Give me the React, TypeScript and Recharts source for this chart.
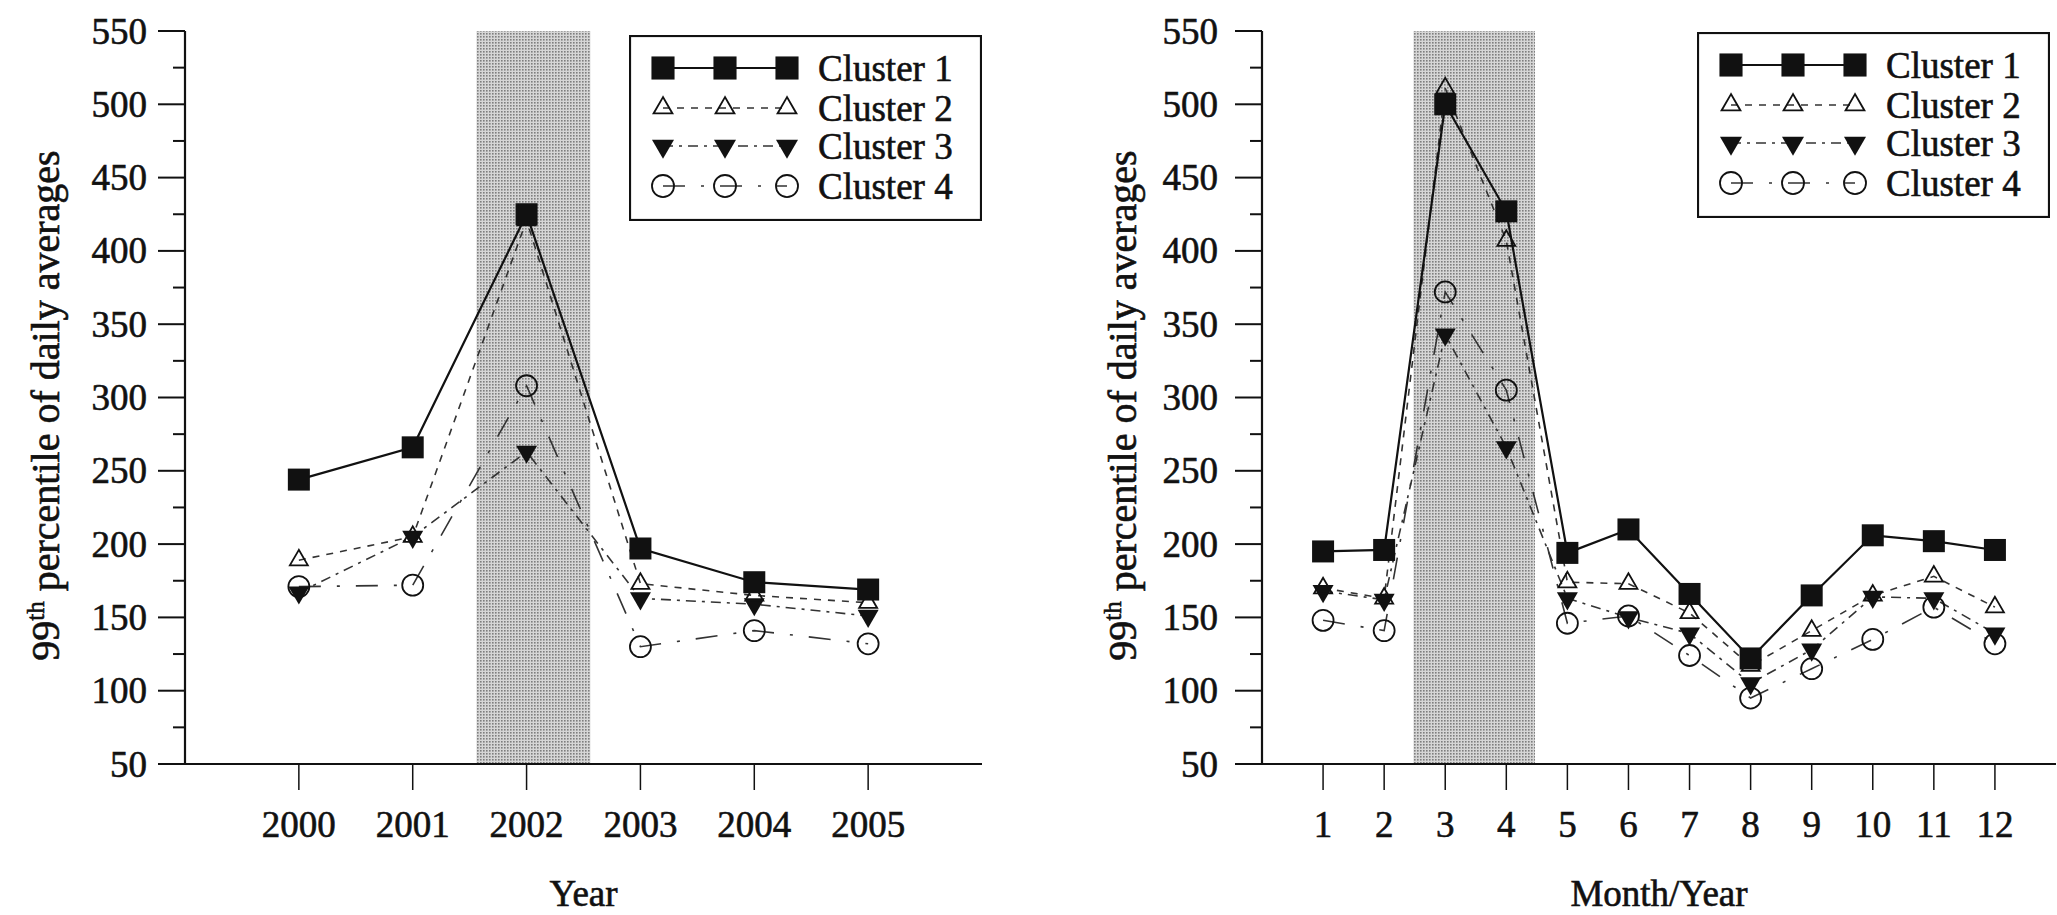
import React from 'react';
import { LineChart, Line, XAxis, YAxis, ReferenceArea, Legend, Label } from 'recharts';

// ---------- data ----------
const years = [2000, 2001, 2002, 2003, 2004, 2005];
const yearCluster1 = [244, 266, 425, 197, 174, 169];
const yearCluster2 = [189, 205, 421, 173, 165, 160];
const yearCluster3 = [167, 205, 263, 163, 159, 151];
const yearCluster4 = [171, 172, 308, 130, 141, 132];

const months = [1, 2, 3, 4, 5, 6, 7, 8, 9, 10, 11, 12];
const monthCluster1 = [195, 196, 500, 427, 194, 210, 166, 122, 165, 206, 202, 196];
const monthCluster2 = [170, 163, 511, 407, 174, 173, 153, 117, 141, 165, 178, 157];
const monthCluster3 = [168, 162, 343, 266, 163, 150, 139, 105, 128, 164, 163, 139];
const monthCluster4 = [148, 141, 372, 305, 146, 151, 124, 95, 115, 135, 157, 132];

const yearTicks = [2000, 2001, 2002, 2003, 2004, 2005];
const monthTicks = [1, 2, 3, 4, 5, 6, 7, 8, 9, 10, 11, 12];
const valueTicks = [50, 75, 100, 125, 150, 175, 200, 225, 250, 275, 300, 325, 350, 375, 400, 425, 450, 475, 500, 525, 550];
const seriesNames = ['Cluster 1', 'Cluster 2', 'Cluster 3', 'Cluster 4'];

const yearData = years.map((x, i) => ({
  x,
  c1: yearCluster1[i],
  c2: yearCluster2[i],
  c3: yearCluster3[i],
  c4: yearCluster4[i],
}));
const monthData = months.map((x, i) => ({
  x,
  c1: monthCluster1[i],
  c2: monthCluster2[i],
  c3: monthCluster3[i],
  c4: monthCluster4[i],
}));

// ---------- styles ----------
const FONT = '"Liberation Serif", "Times New Roman", Times, serif';
const INK = '#111';
const FS = 37;
const TEXT_STROKE = 0.6;

type Kind = 'square' | 'triUp' | 'triDown' | 'circle';
const seriesStyle: { key: string; kind: Kind; dash?: string; width: number; color: string }[] = [
  { key: 'c1', kind: 'square', dash: undefined, width: 2.2, color: '#111' },
  { key: 'c2', kind: 'triUp', dash: '7 7', width: 1.6, color: '#333' },
  { key: 'c3', kind: 'triDown', dash: '10 6 3 6', width: 1.6, color: '#333' },
  { key: 'c4', kind: 'circle', dash: '22 16 3 16', width: 1.6, color: '#333' },
];

function MarkerShape({ kind, cx, cy, scale = 1 }: { kind: Kind; cx: number; cy: number; scale?: number }) {
  if (kind === 'square') {
    const s = 22 * scale;
    return <rect x={cx - s / 2} y={cy - s / 2} width={s} height={s} fill={INK} />;
  }
  if (kind === 'triUp') {
    const w = 18 * scale;
    const h = w * 0.866;
    return (
      <polygon
        points={`${cx},${cy - (2 * h) / 3} ${cx - w / 2},${cy + h / 3} ${cx + w / 2},${cy + h / 3}`}
        fill="none"
        stroke={INK}
        strokeWidth={1.8}
      />
    );
  }
  if (kind === 'triDown') {
    const w = 21 * scale;
    const h = w * 0.866;
    return (
      <polygon
        points={`${cx},${cy + (2 * h) / 3} ${cx - w / 2},${cy - h / 3} ${cx + w / 2},${cy - h / 3}`}
        fill={INK}
      />
    );
  }
  return <circle cx={cx} cy={cy} r={10.5 * scale} fill="none" stroke={INK} strokeWidth={1.8} />;
}

const makeDot = (kind: Kind) => (props: any) => {
  const { cx, cy, index } = props;
  if (cx == null || cy == null) return <g key={`d-${index}`} />;
  return (
    <g key={`d-${kind}-${index}`}>
      <MarkerShape kind={kind} cx={cx} cy={cy} />
    </g>
  );
};

const makeYTick = (labelGap: number) => (props: any) => {
  const { x, y, payload } = props;
  const v = payload.value;
  const major = v % 50 === 0;
  return (
    <g>
      <line x1={x} y1={y} x2={x - (major ? 27 : 12)} y2={y} stroke={INK} strokeWidth={2} />
      {major && (
        <text
          x={x - labelGap}
          y={y + 12.5}
          textAnchor="end"
          fontFamily={FONT}
          fontSize={FS}
          fill={INK}
          stroke={INK}
          strokeWidth={TEXT_STROKE}
        >
          {v}
        </text>
      )}
    </g>
  );
};

const XTick = (props: any) => {
  const { x, y, payload } = props;
  return (
    <g>
      <line x1={x} y1={y} x2={x} y2={y + 26} stroke={INK} strokeWidth={1.5} />
      <text
        x={x}
        y={y + 73}
        textAnchor="middle"
        fontFamily={FONT}
        fontSize={FS}
        fill={INK}
        stroke={INK}
        strokeWidth={TEXT_STROKE}
      >
        {payload.value}
      </text>
    </g>
  );
};

const YLabel = (props: any) => {
  const vb = props.viewBox || {};
  const bx = vb.x + vb.width - 126;
  const cy = vb.y + vb.height / 2 + 8;
  return (
    <text
      transform={`translate(${bx},${cy}) rotate(-90)`}
      textAnchor="middle"
      fontFamily={FONT}
      fontSize={40}
      fill={INK}
      stroke={INK}
      strokeWidth={TEXT_STROKE}
    >
      99
      <tspan dy={-15} fontSize={25}>
        th
      </tspan>
      <tspan dy={15}> percentile of daily averages</tspan>
    </text>
  );
};

const makeXLabel = (text: string) => (props: any) => {
  const vb = props.viewBox || {};
  return (
    <text
      x={vb.x + vb.width / 2}
      y={vb.y + 142}
      textAnchor="middle"
      fontFamily={FONT}
      fontSize={FS}
      fill={INK}
      stroke={INK}
      strokeWidth={TEXT_STROKE}
    >
      {text}
    </text>
  );
};

const LegendBox = () => {
  const rows = [33, 73, 111, 151];
  const mx = [34, 96, 158];
  return (
    <svg width={353} height={186} style={{ display: 'block' }}>
      <rect x={1} y={1} width={351} height={184} fill="#fff" stroke={INK} strokeWidth={2.2} />
      {seriesStyle.map((s, i) => (
        <g key={s.key}>
          <line
            x1={mx[0]}
            y1={rows[i]}
            x2={mx[2]}
            y2={rows[i]}
            stroke={s.color}
            strokeWidth={s.width}
            strokeDasharray={s.dash}
          />
          {mx.map((x) => (
            <MarkerShape key={x} kind={s.kind} cx={x} cy={rows[i]} scale={1.05} />
          ))}
          <text
            x={189}
            y={rows[i] + 12.5}
            fontFamily={FONT}
            fontSize={FS}
            fill={INK}
            stroke={INK}
            strokeWidth={TEXT_STROKE}
          >
            {seriesNames[i]}
          </text>
        </g>
      ))}
    </svg>
  );
};

type PanelProps = {
  data: any[];
  width: number;
  domain: [number, number];
  ticks: number[];
  band: [number, number];
  yAxisWidth: number;
  marginRight: number;
  labelGap: number;
  xLabel: string;
  legendPos: { left: number; top: number };
  patternId: string;
};

function Panel(p: PanelProps) {
  return (
    <LineChart
      width={p.width}
      height={915}
      data={p.data}
      margin={{ top: 31, right: p.marginRight, bottom: 0, left: 0 }}
    >
      <defs>
        <pattern id={p.patternId} width={3} height={3} patternUnits="userSpaceOnUse">
          <rect width={3} height={3} fill="#d6d6d6" />
          <rect width={1.6} height={1.6} fill="#7e7e7e" />
        </pattern>
      </defs>
      <XAxis
        dataKey="x"
        type="number"
        domain={p.domain}
        ticks={p.ticks}
        interval={0}
        allowDataOverflow
        height={151}
        tickSize={0}
        tickMargin={0}
        tickLine={false}
        axisLine={{ stroke: INK, strokeWidth: 2.2 }}
        tick={XTick}
      >
        <Label content={makeXLabel(p.xLabel)} />
      </XAxis>
      <YAxis
        type="number"
        domain={[50, 550]}
        ticks={valueTicks}
        interval={0}
        allowDataOverflow
        width={p.yAxisWidth}
        tickSize={0}
        tickMargin={0}
        tickLine={false}
        axisLine={{ stroke: INK, strokeWidth: 2.2 }}
        tick={makeYTick(p.labelGap)}
      >
        <Label content={YLabel} />
      </YAxis>
      <ReferenceArea
        x1={p.band[0]}
        x2={p.band[1]}
        y1={50}
        y2={550}
        fill={`url(#${p.patternId})`}
        fillOpacity={1}
        stroke="none"
      />
      {[...seriesStyle].reverse().map((s) => (
        <Line
          key={s.key}
          dataKey={s.key}
          type="linear"
          stroke={s.color}
          strokeWidth={s.width}
          strokeDasharray={s.dash}
          dot={makeDot(s.kind)}
          activeDot={false}
          isAnimationActive={false}
        />
      ))}
      <Legend
        layout="vertical"
        align="center"
        verticalAlign="middle"
        wrapperStyle={{ position: 'absolute', left: p.legendPos.left, top: p.legendPos.top, width: 353, height: 186 }}
        content={() => <LegendBox />}
      />
    </LineChart>
  );
}

export default function App() {
  return (
    <div style={{ position: 'absolute', left: 0, top: 0, width: 2057, height: 915, background: '#fff' }}>
      <div style={{ position: 'absolute', left: 0, top: 0 }}>
        <Panel
          data={yearData}
          width={1030}
          domain={[1999, 2006]}
          ticks={yearTicks}
          band={[2001.56, 2002.56]}
          yAxisWidth={185}
          marginRight={48}
          labelGap={38}
          xLabel="Year"
          legendPos={{ left: 629, top: 35 }}
          patternId="dotsLeft"
        />
      </div>
      <div style={{ position: 'absolute', left: 1030, top: 0 }}>
        <Panel
          data={monthData}
          width={1027}
          domain={[0, 13]}
          ticks={monthTicks}
          band={[2.48, 4.47]}
          yAxisWidth={232}
          marginRight={1}
          labelGap={44}
          xLabel="Month/Year"
          legendPos={{ left: 667, top: 32 }}
          patternId="dotsRight"
        />
      </div>
    </div>
  );
}
